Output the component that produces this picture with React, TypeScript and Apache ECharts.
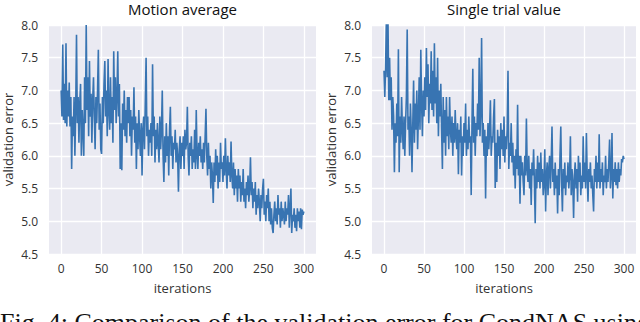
import React, { useEffect, useRef } from "react";
import * as echarts from "echarts";

const titles = ["Motion average", "Single trial value"];
const xTicks = [0, 50, 100, 150, 200, 250, 300];
const yMin = 4.5;
const yMax = 8.0;
const yStep = 0.5;
const xName = "iterations";
const yName = "validation error";
const caption = "Fig. 4: Comparison of the validation error for CondNAS using";

const motionAverage = [
  7.00, 6.60, 7.70, 6.55, 7.10, 6.50, 7.72, 6.45, 7.00, 6.60,
  7.12, 6.45, 6.90, 5.80, 6.60, 6.30, 6.90, 6.00, 6.70, 7.85,
  6.50, 6.90, 6.20, 6.80, 7.10, 6.00, 6.70, 6.40, 6.00, 7.20,
  6.50, 8.00, 6.70, 7.20, 6.30, 7.45, 6.60, 6.95, 6.20, 6.85,
  7.20, 6.60, 6.10, 6.90, 6.50, 7.00, 7.62, 6.40, 6.80, 6.10,
  6.03, 6.90, 6.50, 7.10, 7.45, 6.60, 7.00, 6.30, 7.48, 6.70,
  6.40, 7.20, 6.50, 6.90, 6.20, 7.60, 6.70, 7.20, 6.50, 6.90,
  7.60, 6.60, 7.10, 5.80, 6.50, 5.78, 6.80, 6.40, 7.00, 6.30,
  6.70, 6.20, 6.90, 6.50, 6.90, 6.30, 6.70, 6.00, 6.60, 6.40,
  7.05, 6.20, 6.60, 5.80, 6.50, 6.10, 6.70, 6.30, 6.00, 6.50,
  5.70, 6.40, 6.60, 6.10, 6.80, 7.50, 6.30, 6.60, 6.00, 6.40,
  6.20, 6.50, 6.00, 7.40, 6.30, 6.60, 5.90, 6.40, 6.10, 6.50,
  6.20, 5.90, 6.60, 6.10, 6.40, 7.00, 6.00, 5.60, 6.30, 5.90,
  6.50, 6.00, 6.30, 5.70, 6.40, 6.75, 6.00, 6.30, 5.80, 6.20,
  6.10, 6.40, 5.90, 6.20, 6.00, 5.45, 6.10, 6.30, 5.80, 6.20,
  6.00, 6.30, 5.80, 6.40, 6.10, 6.20, 6.75, 6.00, 5.70, 6.20,
  6.00, 6.30, 5.80, 6.10, 5.90, 6.40, 5.80, 6.70, 6.00, 5.80,
  6.20, 6.00, 6.30, 5.90, 6.10, 5.80, 6.20, 5.90, 6.30, 6.72,
  6.00, 5.70, 6.20, 5.80, 6.00, 5.50, 5.90, 5.70, 5.28, 5.90,
  5.60, 6.10, 5.70, 6.00, 5.50, 5.90, 5.60, 6.20, 5.80, 5.90,
  5.60, 6.00, 5.70, 6.27, 5.80, 5.50, 6.00, 5.70, 5.90, 5.60,
  6.22, 5.70, 5.50, 5.90, 5.40, 5.80, 5.50, 5.70, 5.30, 5.80,
  5.50, 5.70, 5.30, 5.60, 5.40, 5.80, 5.30, 5.50, 5.20, 5.60,
  5.40, 5.70, 5.30, 5.50, 5.98, 5.40, 5.60, 5.20, 5.50, 5.30,
  5.60, 5.10, 5.40, 5.20, 5.50, 5.30, 5.00, 5.40, 5.20, 5.50,
  5.65, 5.10, 5.30, 5.00, 5.40, 5.20, 5.50, 5.00, 5.30, 4.95,
  5.20, 4.90, 4.82, 5.10, 5.30, 5.00, 5.20, 4.95, 5.40, 5.10,
  5.20, 4.90, 5.30, 5.00, 5.20, 5.10, 4.95, 5.30, 5.00, 5.20,
  5.10, 5.40, 4.90, 5.20, 5.50, 4.82, 5.10, 5.00, 5.20, 4.90,
  5.10, 4.85, 5.20, 5.00, 5.15, 4.90, 5.20, 4.88, 5.18, 5.10,
  5.15,
];

const singleTrial = [
  7.30, 6.90, 7.35, 8.10, 7.20, 8.05, 6.85, 7.50, 6.85, 7.20,
  6.40, 6.90, 6.60, 5.75, 6.50, 6.20, 6.80, 6.30, 7.63, 5.75,
  6.60, 6.20, 6.90, 6.40, 6.10, 6.60, 6.00, 6.50, 6.90, 7.93,
  6.40, 6.60, 6.00, 6.80, 6.40, 5.75, 6.50, 7.15, 6.20, 6.80,
  6.40, 7.00, 6.10, 6.60, 7.20, 6.40, 7.62, 6.80, 6.30, 7.00,
  6.60, 7.20, 6.70, 7.65, 6.90, 7.40, 6.50, 7.10, 6.80, 7.60,
  6.70, 7.30, 6.60, 7.72, 6.80, 7.20, 6.50, 7.50, 6.30, 7.00,
  6.60, 7.10, 6.40, 5.80, 6.90, 6.20, 6.70, 6.00, 6.90, 6.30,
  6.60, 6.10, 6.90, 6.40, 6.20, 6.60, 6.00, 6.50, 6.20, 6.70,
  6.30, 6.10, 6.50, 5.72, 6.40, 6.20, 6.60, 5.70, 6.30, 6.00,
  6.50, 6.20, 6.80, 6.00, 6.40, 6.10, 6.60, 6.20, 6.30, 5.40,
  6.50, 7.33, 6.20, 6.60, 6.00, 6.50, 6.30, 6.80, 6.40, 7.50,
  6.30, 6.70, 7.80, 6.20, 6.50, 6.00, 6.40, 5.35, 6.30, 6.00,
  6.50, 6.10, 6.40, 6.85, 6.00, 6.30, 6.20, 6.60, 6.87, 5.51,
  6.20, 5.60, 6.40, 6.00, 6.30, 5.80, 6.50, 6.10, 6.40, 6.00,
  6.60, 5.90, 6.30, 6.10, 6.40, 7.30, 5.80, 6.20, 6.00, 6.50,
  5.90, 6.20, 5.70, 6.00, 5.50, 6.10, 5.80, 6.78, 5.70, 6.00,
  5.27, 6.00, 5.70, 5.90, 5.60, 5.40, 6.00, 5.70, 6.57, 5.80,
  5.60, 6.00, 5.50, 5.80, 5.25, 5.90, 5.70, 6.10, 5.60, 4.97,
  5.80, 5.50, 6.00, 5.60, 5.90, 5.50, 6.05, 5.60, 5.80, 5.40,
  5.60, 6.10, 5.15, 5.70, 5.90, 5.40, 5.80, 6.00, 5.50, 5.90,
  6.45, 5.60, 5.80, 5.40, 5.90, 5.50, 5.70, 5.12, 5.80, 5.40,
  6.00, 6.45, 5.60, 5.15, 5.80, 5.50, 5.90, 5.40, 5.70, 5.60,
  5.90, 5.50, 5.70, 6.30, 5.40, 5.80, 5.60, 5.05, 5.70, 5.90,
  5.50, 5.80, 5.30, 6.00, 5.60, 5.90, 5.40, 5.70, 5.50, 6.30,
  5.60, 5.90, 5.50, 6.35, 5.70, 5.30, 5.80, 5.60, 5.90, 5.50,
  5.70, 5.40, 5.15, 5.80, 5.60, 6.00, 5.50, 5.90, 5.60, 6.33,
  5.50, 5.80, 5.60, 5.90, 5.40, 5.70, 5.60, 6.00, 5.50, 5.80,
  5.60, 5.90, 6.25, 5.50, 5.70, 6.35, 5.35, 5.80, 5.60, 5.90,
  5.55, 5.80, 5.50, 5.90, 5.60, 5.80, 5.70, 5.95, 5.90, 6.00,
  5.95,
];

const FONT = "'Open Sans', 'DejaVu Sans', sans-serif";
const TEXT = "#333333";
const LINE = "#3874b2";
const BG = "#EAEAF2";

const grids = [
  { left: 49, top: 25, width: 267, height: 229 },
  { left: 372, top: 25, width: 264, height: 229 },
];

export default function App() {
  const ref = useRef<HTMLDivElement>(null);
  useEffect(() => {
    if (!ref.current) return;
    const chart = echarts.init(ref.current, null, { renderer: "svg" });
    const series = [motionAverage, singleTrial];
    const option: any = {
      animation: false,
      backgroundColor: "#ffffff",
      grid: grids.map((g) => ({
        ...g,
        show: true,
        backgroundColor: BG,
        borderWidth: 0,
        containLabel: false,
      })),
      xAxis: grids.map((_, i) => ({
        type: "value",
        gridIndex: i,
        min: -15,
        max: 315,
        name: xName,
        nameLocation: "middle",
        nameGap: 27,
        nameTextStyle: { fontFamily: FONT, fontSize: 13, color: TEXT },
        axisLine: { show: false },
        axisTick: { show: false, customValues: xTicks },
        axisLabel: {
          customValues: xTicks,
          fontFamily: FONT,
          fontSize: 12,
          color: TEXT,
          margin: 8,
        },
        splitLine: { show: true, lineStyle: { color: "#ffffff", width: 1.3 } },
      })),
      yAxis: grids.map((_, i) => ({
        type: "value",
        gridIndex: i,
        min: yMin,
        max: yMax,
        interval: yStep,
        name: yName,
        nameLocation: "middle",
        nameGap: 35,
        nameTextStyle: { fontFamily: FONT, fontSize: 13, color: TEXT },
        axisLine: { show: false },
        axisTick: { show: false },
        axisLabel: {
          formatter: (v: number) => v.toFixed(1),
          fontFamily: FONT,
          fontSize: 12,
          color: TEXT,
          margin: 11,
        },
        splitLine: { show: true, lineStyle: { color: "#ffffff", width: 1.3 } },
      })),
      series: series.map((vals, i) => ({
        type: "line",
        xAxisIndex: i,
        yAxisIndex: i,
        data: vals.map((v, k) => [k, v]),
        showSymbol: false,
        symbol: "none",
        clip: true,
        lineStyle: { color: LINE, width: 1.6 },
        itemStyle: { color: LINE },
      })),
      graphic: [
        ...grids.map((g, i) => ({
          type: "text",
          x: g.left + g.width / 2,
          y: 1,
          style: {
            text: titles[i],
            fontFamily: FONT,
            fontSize: 15,
            fill: "#111111",
            align: "center",
            verticalAlign: "top",
          },
        })),
        {
          type: "text",
          x: 0,
          y: 309,
          style: {
            text: caption,
            fontFamily: "'Liberation Serif', 'DejaVu Serif', serif",
            fontSize: 26,
            fill: "#111111",
            align: "left",
            verticalAlign: "top",
          },
        },
      ],
    };
    chart.setOption(option);
    return () => chart.dispose();
  }, []);
  return (
    <div
      ref={ref}
      style={{ position: "fixed", left: 0, top: 0, width: 640, height: 322 }}
    />
  );
}
